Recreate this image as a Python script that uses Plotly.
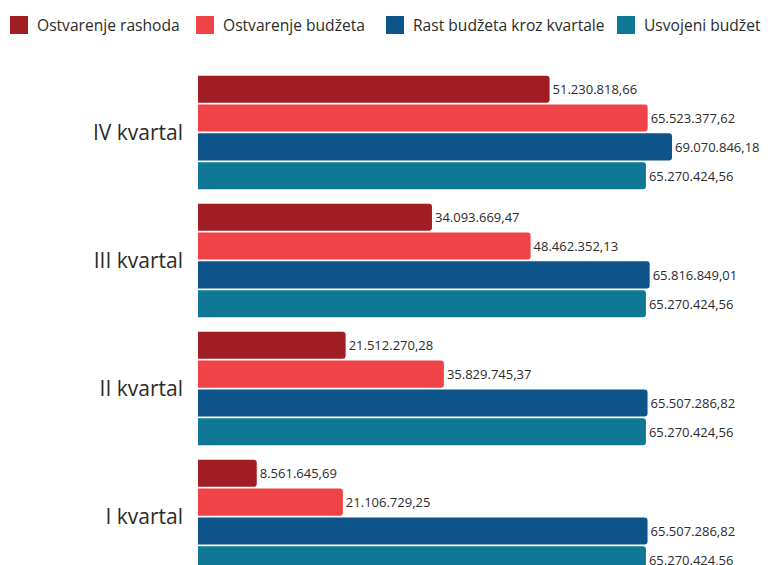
import plotly.graph_objects as go

kvartali = ['I kvartal', 'II kvartal', 'III kvartal', 'IV kvartal']

ostvarenje_rashoda = [8561645.69, 21512270.28, 34093669.47, 51230818.66]
ostvarenje_budzeta = [21106729.25, 35829745.37, 48462352.13, 65523377.62]
rast_budzeta = [65507286.82, 65507286.82, 65816849.01, 69070846.18]
usvojeni_budzet = [65270424.56, 65270424.56, 65270424.56, 65270424.56]

series = [
    ('Ostvarenje rashoda', ostvarenje_rashoda, '#A01D24'),
    ('Ostvarenje budžeta', ostvarenje_budzeta, '#EF4347'),
    ('Rast budžeta kroz kvartale', rast_budzeta, '#0D548B'),
    ('Usvojeni budžet', usvojeni_budzet, '#0E7896'),
]


def fmt(v):
    # 51230818.66 -> 51.230.818,66
    s = f'{v:,.2f}'
    return s.replace(',', '#').replace('.', ',').replace('#', '.')


FONT = 'Open Sans'
TXT = '#2b2b2b'

# plot area in figure pixels (page body adds an 8px offset, so all is shifted by -8)
L, T, W, H = 190, 52, 586, 513


def px(x):
    return (x - L) / W


def py(y):
    return (T + H - y) / H


fig = go.Figure()

# horizontal grouped bars put the first trace at the bottom, so add in reverse
for name, vals, color in reversed(series):
    fig.add_trace(go.Bar(
        y=kvartali, x=vals, orientation='h', name=name,
        marker=dict(color=color, line=dict(width=0)),
        text=[fmt(v) for v in vals], textposition='outside',
        textfont=dict(family=FONT, size=13, color=TXT),
        cliponaxis=False, showlegend=False,
    ))

# hand-made legend row (plotly's own legend wraps at this width)
legend_x = [2, 188, 378, 609]
for (name, vals, color), lx in zip(series, legend_x):
    fig.add_shape(type='rect', xref='paper', yref='paper',
                  x0=px(lx), x1=px(lx + 18), y0=py(8), y1=py(26),
                  fillcolor=color, line=dict(width=0))
    fig.add_annotation(xref='paper', yref='paper', x=px(lx + 25), y=py(17),
                       text=name, showarrow=False, xanchor='left', yanchor='middle',
                       font=dict(family=FONT, size=15.6, color=TXT))

fig.update_layout(
    width=776, height=565,
    margin=dict(l=L, r=0, t=T, b=0, autoexpand=False),
    paper_bgcolor='white', plot_bgcolor='white',
    barmode='group', bargap=0.1, bargroupgap=0.06, barcornerradius=3,
    font=dict(family=FONT, color=TXT),
    showlegend=False,
    xaxis=dict(range=[0, 85.39e6], visible=False, fixedrange=True),
    yaxis=dict(
        type='category', range=[-0.441, 3.566], automargin=False,
        showgrid=False, zeroline=False, showline=False, ticks='',
        tickfont=dict(family=FONT, size=21, color=TXT),
        ticklabelstandoff=14,
    ),
)

fig.write_html('out.html')
